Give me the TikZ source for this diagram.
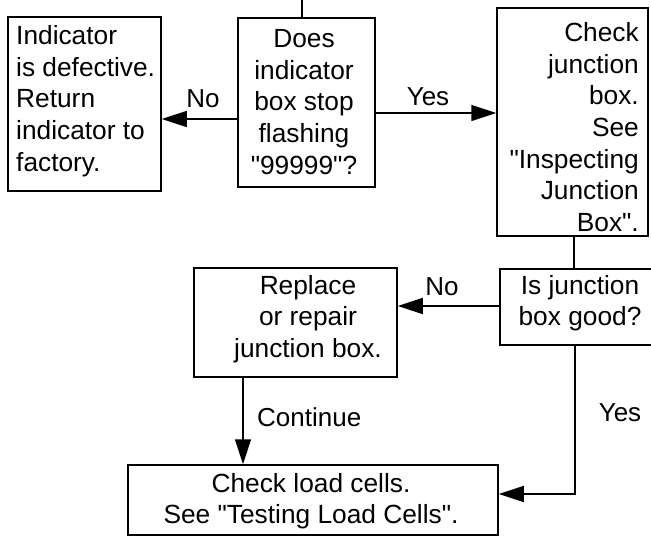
\documentclass[tikz,border=0pt]{standalone}
\usepackage{fontspec}
\setmainfont{Liberation Sans}
\usetikzlibrary{arrows.meta}
\newcommand{\sq}{\textquotedbl}
\begin{document}
\begin{tikzpicture}[x=1pt,y=-1pt,
  box/.style={draw,line width=1.5pt,rectangle,inner sep=0pt},
  txt/.style={font=\fontsize{26.3}{31.6}\selectfont,inner sep=0pt},
  lbl/.style={font=\fontsize{26}{30}\selectfont,inner sep=0pt},
  conn/.style={line width=1.5pt},
  arr/.style={line width=1.5pt,-{Triangle[length=25pt,width=16pt]}}]
\useasboundingbox (0,0) rectangle (651,536);
% boxes
\node[box,minimum width=153pt,minimum height=174pt] (b1) at (84.5,104) {};
\node[box,minimum width=137pt,minimum height=169pt] (b2) at (306.5,102.5) {};
\node[box,minimum width=151pt,minimum height=228pt] (b3) at (572.5,122) {};
\node[box,minimum width=155pt,minimum height=76pt] (b4) at (577.5,307) {};
\node[box,minimum width=203pt,minimum height=109pt] (b5) at (295.5,322.5) {};
\node[box,minimum width=370pt,minimum height=70pt] (b6) at (313,500) {};
% texts
\node[txt,align=left,anchor=west] (t1) at (16,101) {Indicator\\is defective.\\Return\\indicator to\\factory.};
\node[txt,align=center] (t2) at (304,102) {Does\\indicator\\box stop\\flashing\\\sq99999\sq?};
\node[txt,align=right,anchor=east] (t3) at (639,127) {Check\\junction\\box.\\See\\\sq Inspecting\\Junction\\Box\sq.};
\node[txt,align=center] (t4) at (580,303) {Is junction\\box good?};
\node[txt,align=center] (t5) at (308,319) {Replace\\or repair\\junction box.};
\node[txt,align=center] (t6) at (311,501) {Check load cells.\\See \sq Testing Load Cells\sq.};
% connectors
\coordinate (top) at (302,0);
\draw[conn] (top) -- (b2.north -| top);
\draw[arr] (b2.west |- 0,119) -- (b1.east |- 0,119);
\draw[arr] (b2.east |- 0,113) -- (b3.west |- 0,113);
\draw[conn] (b3.south -| 574,0) -- (b4.north -| 574,0);
\draw[arr] (b4.west |- 0,306) -- (b5.east |- 0,306);
\draw[arr] (b5.south -| 243,0) -- (b6.north -| 243,0);
\coordinate (yc) at (575,494);
\draw[arr] (b4.south -| yc) -- (yc) -- (b6.east |- yc);
% labels
\node[lbl] (lno1) at (203,99) {No};
\node[lbl] (lyes1) at (428,97) {Yes};
\node[lbl] (lno2) at (442,287) {No};
\node[lbl,anchor=west] (lcont) at (257,417) {Continue};
\node[lbl] (lyes2) at (620,413) {Yes};
\end{tikzpicture}
\end{document}
